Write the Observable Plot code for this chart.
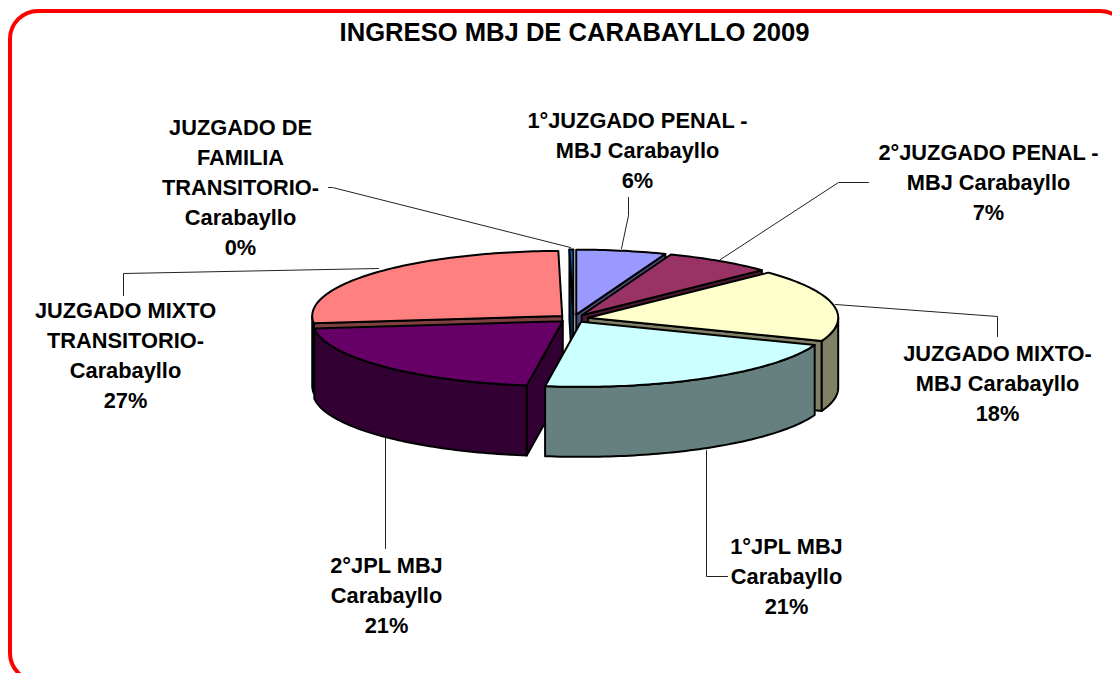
<!DOCTYPE html>
<html>
<head>
<meta charset="utf-8">
<script src="https://cdn.jsdelivr.net/npm/d3@7"></script>
<script src="https://cdn.jsdelivr.net/npm/@observablehq/plot@0.6"></script>
<style>html,body{margin:0;padding:0;background:#fff;overflow:hidden}svg{display:block}</style>
</head>
<body>
<script>
const title = "INGRESO MBJ DE CARABAYLLO 2009";
const categories = ["1°JUZGADO PENAL -\nMBJ Carabayllo","2°JUZGADO PENAL -\nMBJ Carabayllo","JUZGADO MIXTO-\nMBJ Carabayllo","1°JPL MBJ\nCarabayllo","2°JPL MBJ\nCarabayllo","JUZGADO MIXTO\nTRANSITORIO-\nCarabayllo","JUZGADO DE\nFAMILIA\nTRANSITORIO-\nCarabayllo"];
const percentLabels = ["6%","7%","18%","21%","21%","27%","0%"];
const values = [5.8, 7, 18, 21.5, 20.9, 26.55, 0.25];
const topColors = ["#9999ff","#993366","#ffffcc","#ccffff","#660066","#ff8080","#0066cc"];
const sideColors = ["#4d4d80","#4d1933","#808066","#668080","#330033","#804040","#003366"];
const paintOrder = [6, 5, 0, 1, 2, 4, 3];

// layout of the drawing
const W = 1112, H = 673;
const cx = 573, cy = 318, R = 250, squash = 0.26, explode = 15, depth = 70;
const labelCenters = [[637,106],[988,138],[997,339],[786,532],[386,551],[125,296],[240,113]];
const leaderPaths = [
  [[628,197],[628,215],[621,248]],
  [[868,182],[838,182],[720,259]],
  [[997,336],[997,316],[835,304]],
  [[706,450],[706,576],[727,576]],
  [[385,436],[385,548]],
  [[123,295],[123,273],[378,268]],
  [[328,187],[332,187],[570,247]]
];

const total = d3.sum(values);
let running = 0;
const faces = [];
const sliceGeom = values.map(v => {
  const a0 = running / total * 2 * Math.PI;
  running += v;
  const a1 = running / total * 2 * Math.PI;
  const mid = (a0 + a1) / 2;
  return {a0, a1, ax: cx + explode * Math.sin(mid), ay: cy - explode * squash * Math.cos(mid)};
});
function rim(g, t, drop = 0) {
  return [g.ax + R * Math.sin(t), g.ay - R * squash * Math.cos(t) + drop];
}
function arcSamples(a, b) {
  const n = Math.max(2, Math.ceil(Math.abs(b - a) / 0.02));
  return d3.range(n + 1).map(i => a + (b - a) * i / n);
}
function addFace(id, color, pts) {
  [...pts, pts[0]].forEach(p => faces.push({face: id, color, x: p[0], y: p[1]}));
}
paintOrder.forEach(i => {
  const g = sliceGeom[i], side = sideColors[i];
  const apex = [g.ax, g.ay], apexLow = [g.ax, g.ay + depth];
  if (Math.sin(g.a0) < 0) addFace(`s${i}`, side, [apex, rim(g, g.a0), rim(g, g.a0, depth), apexLow]);
  if (Math.sin(g.a1) > 0) addFace(`e${i}`, side, [apex, rim(g, g.a1), rim(g, g.a1, depth), apexLow]);
  const lo = Math.max(g.a0, Math.PI / 2), hi = Math.min(g.a1, 3 * Math.PI / 2);
  if (hi > lo) {
    const ts = arcSamples(lo, hi);
    addFace(`o${i}`, side, [...ts.map(t => rim(g, t)), ...ts.slice().reverse().map(t => rim(g, t, depth))]);
  }
  addFace(`t${i}`, topColors[i], [apex, ...arcSamples(g.a0, g.a1).map(t => rim(g, t))]);
});
const leaders = leaderPaths.flatMap((p, i) => p.map(([x, y]) => ({id: i, x, y})));
const labels = categories.map((c, i) => ({text: c + "\n" + percentLabels[i], x: labelCenters[i][0], y: labelCenters[i][1]}));
const font = {fontFamily: "'Liberation Sans', Arial, sans-serif", fontWeight: "bold"};

const chart = Plot.plot({
  width: W, height: H,
  margin: 0,
  x: {domain: [0, W], range: [0, W], axis: null},
  y: {domain: [0, H], range: [0, H], axis: null},
  color: {type: "identity"},
  marks: [
    Plot.rect([{}], {x1: () => 10, x2: () => 1128, y1: () => 11, y2: () => 681, rx: 28, fill: "none", stroke: "#ff0000", strokeWidth: 4}),
    Plot.line(leaders, {x: "x", y: "y", z: "id", stroke: "#222", strokeWidth: 1, curve: "linear"}),
    Plot.line(faces, {x: "x", y: "y", z: "face", fill: "color", stroke: "#000", strokeWidth: 2, strokeLinejoin: "round", curve: "linear"}),
    Plot.text(labels, {x: "x", y: "y", text: "text", fill: "#000", fontSize: 21.8, lineHeight: 1.376, lineAnchor: "top", textAnchor: "middle", ...font}),
    Plot.text([title], {x: () => 574, y: () => 32, text: d => d, fill: "#000", fontSize: 25.6, textAnchor: "middle", ...font})
  ]
});
document.body.appendChild(chart);
</script>
</body>
</html>
